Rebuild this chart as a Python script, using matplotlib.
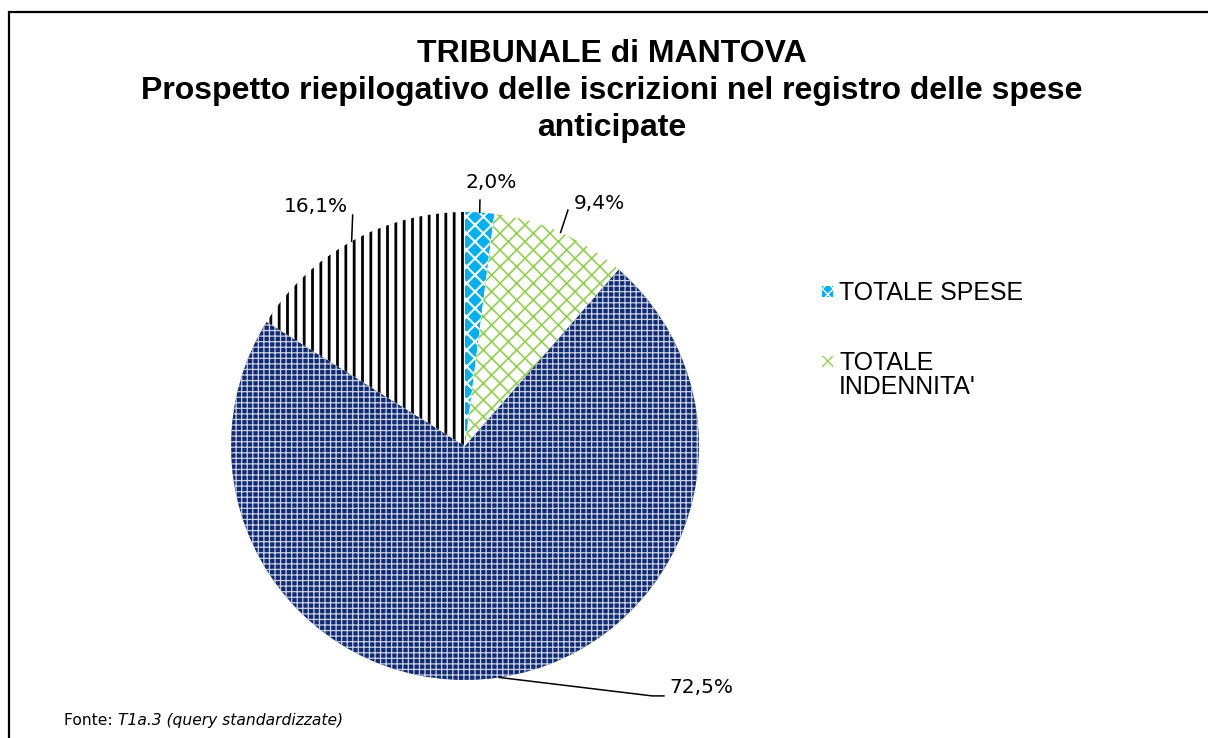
import matplotlib
matplotlib.use("Agg")
import matplotlib.pyplot as plt
from matplotlib.patches import Rectangle
import numpy as np

# ---- data ----
categories = ["TOTALE SPESE", "TOTALE INDENNITA'", "TOTALE ONORARI", "TOTALE ALTRO"]
values = [2.0, 9.4, 72.5, 16.1]
value_labels = ["2,0%", "9,4%", "72,5%", "16,1%"]
legend_lines = [["TOTALE SPESE"], ["TOTALE", "INDENNITA'"]]
title_lines = ["TRIBUNALE di MANTOVA",
               "Prospetto riepilogativo delle iscrizioni nel registro delle spese",
               "anticipate"]

W, H = 1208, 738
DPI = 100
fig = plt.figure(figsize=(W / DPI, H / DPI), dpi=DPI)
fig.patch.set_facecolor("white")

def fy(py):
    return 1 - py / H

# outer frame (cut at right and bottom as in reference)
frame = Rectangle((8.5 / W, -0.5), 2.0, fy(11.5) + 0.5,
                  transform=fig.transFigure, fill=False, edgecolor="black",
                  linewidth=1.6, clip_on=False)
fig.add_artist(frame)

cx, cy, r = 465, 446, 234
ax = fig.add_axes([(cx - r) / W, (H - cy - r) / H, 2 * r / W, 2 * r / H])

faces = ["#00B0F0", "white", "#132B6E", "white"]
hatch_cols = ["white", "#92D050", "#C8D2EA", "black"]
hatches = ["xx", "xx", "+++", "||"]
hatch_lw = [1.5, 1.2, 0.9, 2.0]

wedges, _ = ax.pie(values, startangle=90, counterclock=False, radius=1,
                   wedgeprops=dict(linewidth=0))
ax.set_xlim(-1, 1)
ax.set_ylim(-1, 1)
ax.axis("off")
for w, fc, hc, h, lw in zip(wedges, faces, hatch_cols, hatches, hatch_lw):
    w.set_facecolor(fc)
    w.set_edgecolor(hc)
    w.set_linewidth(0)
    w.set_hatch(h)
    if hasattr(w, "set_hatch_linewidth"):
        w.set_hatch_linewidth(lw)
    if hasattr(w, "set_hatchcolor"):
        w.set_hatchcolor(hc)

# data labels with leader lines (positions in pie-radius units)
cum = np.cumsum([0] + values[:-1])
tot = sum(values)
label_pos = [(0.113, 1.126), (0.573, 1.036), (1.01, -1.034), (-0.639, 1.023)]
elbows = [[(0.064, 1.051)], [(0.44, 1.008)], [(0.80, -1.068), (0.85, -1.068)],
          [(-0.48, 0.987)]]
for i, (v, lab) in enumerate(zip(values, value_labels)):
    mid = np.deg2rad(90 - (cum[i] + v / 2) / tot * 360)
    ex, ey = np.cos(mid), np.sin(mid)
    ax.text(label_pos[i][0], label_pos[i][1], lab, ha="center", va="center",
            fontsize=14.5, family="DejaVu Sans", clip_on=False)
    pts = [(ex, ey)] + elbows[i]
    xs, ys = zip(*pts)
    ax.plot(xs, ys, color="black", lw=1.1, clip_on=False)

# title
for line, base in zip(title_lines, [62, 99, 136]):
    fig.text(612 / W, fy(base), line, ha="center", va="baseline",
             fontsize=23, fontweight="bold", family="Liberation Sans")

# legend (manual)
leg_marker_y = [292, 362]
leg_base = [[300.5], [370, 393.5]]
leg_fc = ["#00B0F0", "white"]
leg_hc = ["white", "#92D050"]
for i, lines in enumerate(legend_lines):
    y = fy(leg_marker_y[i])
    sq = Rectangle((821.5 / W, y - 5.5 / H), 11 / W, 11 / H, transform=fig.transFigure,
                   facecolor=leg_fc[i], edgecolor=leg_hc[i], linewidth=0,
                   hatch="xxx")
    if hasattr(sq, "set_hatchcolor"):
        sq.set_hatchcolor(leg_hc[i])
    fig.add_artist(sq)
    for line, base in zip(lines, leg_base[i]):
        fig.text(839 / W, fy(base), line, ha="left", va="baseline",
                 fontsize=17.9, family="Liberation Sans")

# source note
t1 = fig.text(64 / W, fy(725), "Fonte: ", ha="left", va="baseline",
              fontsize=11.2, family="DejaVu Sans")
fig.canvas.draw()
bb = t1.get_window_extent()
fig.text(bb.x1 / W, fy(725), "T1a.3 (query standardizzate)", ha="left",
         va="baseline", fontsize=11.2, family="DejaVu Sans", style="italic")

fig.savefig("out.png", dpi=DPI)
